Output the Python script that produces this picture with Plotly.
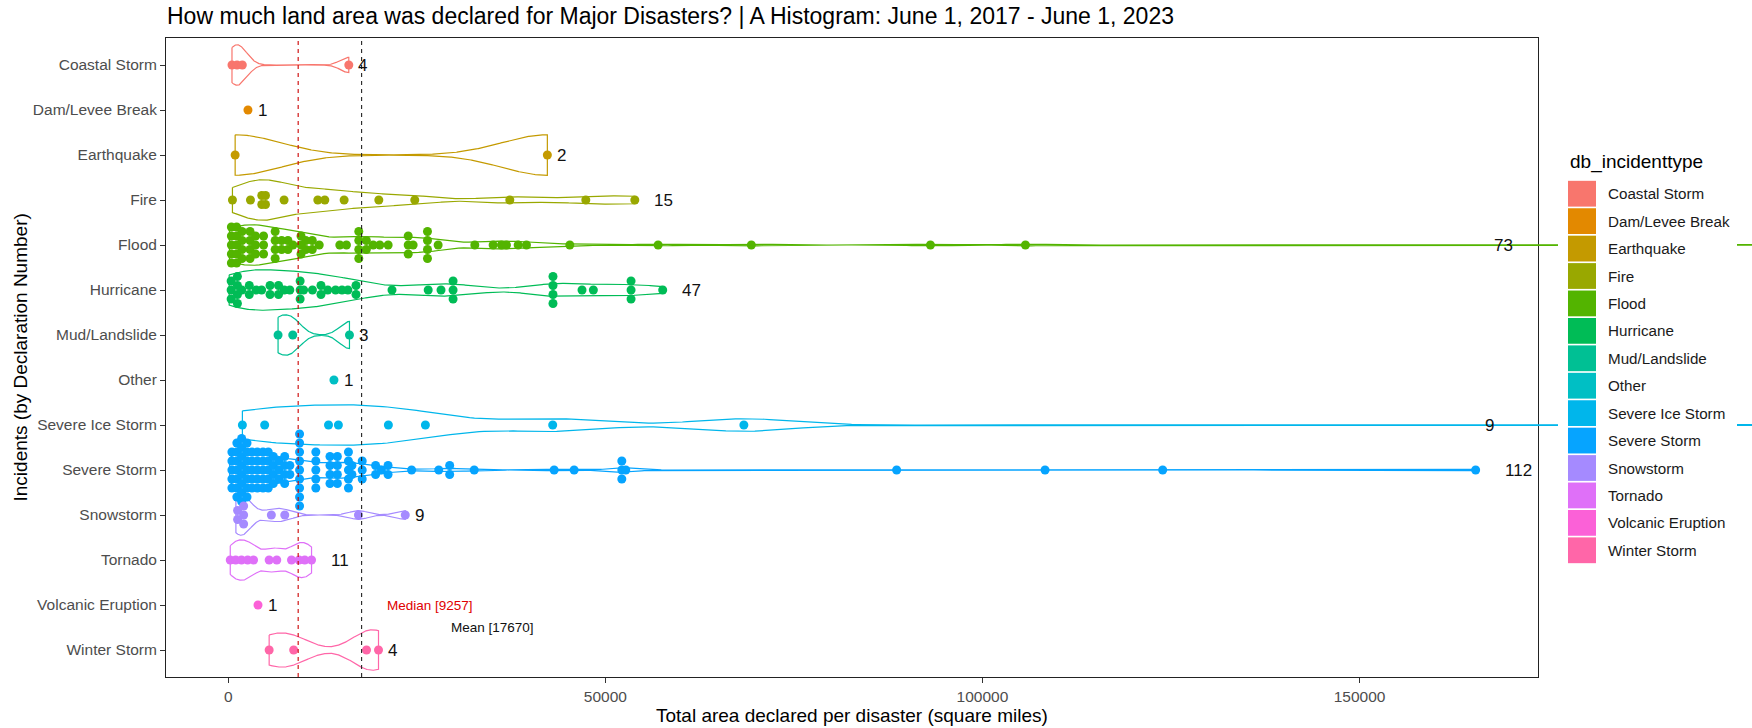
import numpy as np
import plotly.graph_objects as go

# ---------------------------------------------------------------- data
categories = ["Coastal Storm", "Dam/Levee Break", "Earthquake", "Fire", "Flood",
              "Hurricane", "Mud/Landslide", "Other", "Severe Ice Storm",
              "Severe Storm", "Snowstorm", "Tornado", "Volcanic Eruption",
              "Winter Storm"]

# square miles declared per disaster, one list per incident type
coastal_storm = [480, 1150, 1850, 15970]
dam_levee_break = [2600]
earthquake = [900, 42300]
fire = [540, 2930, 4160, 4700, 4850, 5000, 7390, 11860, 12790, 15350, 19950,
        24720, 37320, 47400, 53900]
flood = [150, 300, 420, 580, 650, 800, 950, 1080, 1240, 1390, 1520, 1700, 1880,
         2100, 2620, 2780, 2950, 3130, 3350, 3600, 3850, 4420, 4650, 4920, 5920,
         6080, 6250, 6500, 6780, 7350, 7700, 8100, 8560, 9420, 9350, 9920, 10150,
         10380, 10850, 11400, 12050,
         14780, 15660, 16990, 17200, 17430, 17600, 18200, 18400, 19200, 20080,
         21190, 23700, 23840, 24000, 24500, 26100, 26270, 26400, 26710, 27820,
         32680, 35110, 36220, 36880, 38430, 39530, 45280, 56990, 69350, 93100,
         105700, 337500]
hurricane = [110, 350, 620, 880, 1210, 1460, 1520, 1790, 2480, 3070, 3690, 4410,
             5240, 5810, 6330, 6970, 7420, 8150, 9560, 9330, 9710, 9980,
             11150, 12020, 12540, 13180, 14220, 15070, 15850, 16610, 17240,
             21700, 26500, 28200, 29600, 29800, 30000, 42800, 43000, 43100,
             43300, 46900, 48400, 53200, 53400, 53600, 57600]
mud_landslide = [6590, 8540, 16060]
other = [14000]
severe_ice_storm = [1860, 4815, 13280, 14590, 21220, 26130, 43010, 68360, 329480]
severe_storm = [180, 420, 510, 640, 760, 830, 980, 1050, 1150, 1230,
                1310, 1420, 1480, 1560, 1690, 1750, 1820, 1900, 1980, 2040,
                2170, 2250, 2330, 2460, 2520, 2610, 2780, 2850, 2990, 3120,
                3260, 3410, 3550, 3720, 3860, 3940, 4130, 4310, 4480, 4620,
                4790, 4880, 5020, 5190, 5270, 5430, 5560, 5710, 5840, 5980,
                6210, 6450, 6680, 6920, 7150, 7330, 7610, 7790, 8040, 8270,
                9234, 9285,
                9280, 9350, 9400, 9460, 9520, 9580, 9650,
                11450, 11520, 11600, 11680, 11750,
                13300, 13420, 13500, 13650, 14300, 14420, 14500, 14610,
                15650, 15760, 15850, 15980, 16200, 16320, 16450,
                17600, 17750, 17900, 19400, 19650, 20300, 21050, 21300, 24300,
                27900, 29200, 29500,
                32600, 43200, 45850, 51900, 52200, 52450, 52700, 88620, 108300,
                123900, 165400]
snowstorm = [1000, 1450, 1750, 1850, 2300, 5700, 7480, 17250, 23460]
tornado = [250, 970, 1740, 2560, 3340, 5410, 6420, 8370, 9380, 10130, 11030]
volcanic_eruption = [3930]
winter_storm = [5410, 8660, 18320, 19910]

area_by_type = [coastal_storm, dam_levee_break, earthquake, fire, flood, hurricane,
                mud_landslide, other, severe_ice_storm, severe_storm, snowstorm,
                tornado, volcanic_eruption, winter_storm]

x_tick_values = [0, 50000, 100000, 150000]
x_tick_labels = ["0", "50000", "100000", "150000"]
x_view_limits = (0, 165400)          # visible window of the area axis

# ---------------------------------------------------------------- helpers
W, H = 1752, 728
PANEL_L, PANEL_R, PANEL_T, PANEL_B = 166, 1538, 38, 677
FONT = "Liberation Sans, Arial, sans-serif"


def hue_palette(n, c=100.0, l=65.0):
    """ggplot-style evenly spaced HCL hues, converted to sRGB hex."""
    hues = np.linspace(15, 375, n + 1)[:n]
    xn, yn, zn = 95.047, 100.0, 108.883
    un = 4 * xn / (xn + 15 * yn + 3 * zn)
    vn = 9 * yn / (xn + 15 * yn + 3 * zn)
    out = []
    for h in hues:
        u = c * np.cos(np.deg2rad(h))
        v = c * np.sin(np.deg2rad(h))
        Y = yn * ((l + 16) / 116) ** 3
        up = u / (13 * l) + un
        vp = v / (13 * l) + vn
        X = 9 * Y * up / (4 * vp)
        Z = -X / 3 - 5 * Y + 3 * Y / vp
        X, Y, Z = X / 100, Y / 100, Z / 100
        rgb = [3.240479 * X - 1.537150 * Y - 0.498535 * Z,
               -0.969256 * X + 1.875992 * Y + 0.041556 * Z,
               0.055648 * X - 0.204043 * Y + 1.057311 * Z]
        res = []
        for ch in rgb:
            ch = 12.92 * ch if ch <= 0.0031308 else 1.055 * ch ** (1 / 2.4) - 0.055
            res.append(int(round(min(max(ch, 0), 1) * 255)))
        out.append("#%02X%02X%02X" % tuple(res))
    return out


def bw_nrd0(x):
    x = np.asarray(x, float)
    hi = np.std(x, ddof=1)
    q75, q25 = np.percentile(x, [75, 25])
    lo = min(hi, (q75 - q25) / 1.34)
    if lo <= 0:
        lo = hi if hi > 0 else (abs(x[0]) if x[0] != 0 else 1.0)
    return 0.9 * lo * len(x) ** (-0.2)


def violin_outline(values, adjust=0.5, n=512):
    x = np.asarray(values, float)
    bw = bw_nrd0(x) * adjust
    grid = np.linspace(x.min(), x.max(), n)
    dens = np.exp(-0.5 * ((grid[:, None] - x[None, :]) / bw) ** 2).sum(axis=1)
    return grid, dens / dens.max()


def dot_stacks(values, binwidth):
    """dot-density binning, stacked about the centre line."""
    xs = np.sort(np.asarray(values, float))
    bins, current, end = [], [], -np.inf
    for v in xs:
        if v >= end:
            if current:
                bins.append(current)
            current, end = [], v + binwidth
        current.append(v)
    if current:
        bins.append(current)
    px, offs = [], []
    for b in bins:
        centre = (min(b) + max(b)) / 2
        k = len(b)
        for j in range(k):
            px.append(centre)
            offs.append(j - (k - 1) / 2)
    return np.array(px), np.array(offs)


colors = hue_palette(len(categories))
all_values = np.concatenate([np.asarray(v, float) for v in area_by_type])
median_area = float(np.median(all_values))
mean_area = float(np.mean(all_values))

lo, hi = x_view_limits
span = hi - lo
x_range = [lo - 0.05 * span, hi + 0.05 * span]
# overflow layer: same scale as the panel, stretched to the right page edge
px_per_unit = (PANEL_R - PANEL_L) / (x_range[1] - x_range[0])
x2_range = [x_range[0], x_range[0] + (W - PANEL_L) / px_per_unit]
y_range = [len(categories) - 0.4, -0.6]

row_px = (PANEL_B - PANEL_T) / (y_range[0] - y_range[1])
dot_px = 9
dot_step = dot_px / row_px

fig = go.Figure()

# violins
for i, (name, vals) in enumerate(zip(categories, area_by_type)):
    if len(vals) < 2:
        continue
    grid, w = violin_outline(vals)
    half = 0.45 * w
    xs = np.concatenate([grid, grid[::-1], grid[:1]])
    ys = np.concatenate([i - half, (i + half)[::-1], [i - half[0]]])
    fig.add_trace(go.Scatter(x=xs, y=ys, mode="lines", xaxis="x2", yaxis="y2",
                             line=dict(color=colors[i], width=1.2),
                             hoverinfo="skip", name=name))

# stacked dots
for i, (name, vals) in enumerate(zip(categories, area_by_type)):
    dx, off = dot_stacks(vals, binwidth=650)
    fig.add_trace(go.Scatter(x=dx, y=i + off * dot_step, mode="markers",
                             xaxis="x2", yaxis="y2", name=name,
                             marker=dict(color=colors[i], size=dot_px,
                                         line=dict(width=0))))

# median / mean reference lines
for val, col in [(median_area, "#CC0000"), (mean_area, "#222222")]:
    fig.add_trace(go.Scatter(x=[val, val], y=y_range, mode="lines",
                             xaxis="x2", yaxis="y2", hoverinfo="skip",
                             line=dict(color=col, width=1.1, dash="4px,4px")))

annotations = []

# counts next to each group
for i, vals in enumerate(area_by_type):
    label = str(len(vals))
    anchor = min(max(vals), x_view_limits[1])
    annotations.append(dict(x=anchor, y=i, xref="x", yref="y", text=label,
                            showarrow=False, xanchor="center", yanchor="middle",
                            xshift=1.5 * len(label) * 0.556 * 17,
                            font=dict(family=FONT, size=17, color="#111111")))

annotations.append(dict(x=median_area + 17500, y=12, xref="x", yref="y",
                        text="Median [%d]" % round(median_area), showarrow=False,
                        font=dict(family=FONT, size=13.5, color="#E00000")))
annotations.append(dict(x=mean_area + 17300, y=12.5, xref="x", yref="y",
                        text="Mean [%d]" % round(mean_area), showarrow=False,
                        font=dict(family=FONT, size=13.5, color="#111111")))

# titles
annotations.append(dict(x=165 / W, y=1 - 15.5 / H, xref="paper", yref="paper",
                        xanchor="left", yanchor="middle", showarrow=False,
                        text="How much land area was declared for Major Disasters? | "
                             "A Histogram: June 1, 2017 - June 1, 2023",
                        font=dict(family=FONT, size=23, color="#000000")))
annotations.append(dict(x=(PANEL_L + PANEL_R) / 2 / W, y=1 - 715 / H,
                        xref="paper", yref="paper", xanchor="center",
                        yanchor="middle", showarrow=False,
                        text="Total area declared per disaster (square miles)",
                        font=dict(family=FONT, size=19, color="#000000")))
annotations.append(dict(x=20 / W, y=1 - (PANEL_T + PANEL_B) / 2 / H,
                        xref="paper", yref="paper", xanchor="center",
                        yanchor="middle", showarrow=False, textangle=-90,
                        text="Incidents (by Declaration Number)",
                        font=dict(family=FONT, size=19, color="#000000")))

# legend: colour keys on their own small axes
LEG_L, LEG_R, KEY_T, KEY_B = 1558, 1737, 180, 564
key_x0, key_w, text_x = 10, 28, 48
fig.add_trace(go.Bar(y=list(range(len(categories))),
                     x=[key_w] * len(categories), base=key_x0,
                     orientation="h", xaxis="x3", yaxis="y3",
                     marker=dict(color=colors, line=dict(width=0)),
                     hoverinfo="skip"))
for i, name in enumerate(categories):
    annotations.append(dict(x=text_x, y=i, xref="x3", yref="y3", text=name,
                            showarrow=False, xanchor="left", yanchor="middle",
                            font=dict(family=FONT, size=15.2, color="#1A1A1A")))
annotations.append(dict(x=1568 / W, y=1 - 161.5 / H, xref="paper", yref="paper",
                        xanchor="left", yanchor="middle", showarrow=False,
                        text="db_incidenttype",
                        font=dict(family=FONT, size=19, color="#000000")))

shapes = [dict(type="rect", xref="x3", yref="y3", x0=0, x1=LEG_R - LEG_L,
               y0=-0.5, y1=len(categories) - 0.5, layer="below",
               fillcolor="white", line=dict(width=0))]

axis_common = dict(showgrid=False, zeroline=False, showline=True, mirror=True,
                   linecolor="#222222", linewidth=1, ticks="outside", ticklen=5,
                   tickcolor="#333333", tickwidth=1,
                   tickfont=dict(family=FONT, size=15.5, color="#4D4D4D"))

y_dom = [1 - PANEL_B / H, 1 - PANEL_T / H]
fig.update_layout(
    width=W, height=H, autosize=False,
    margin=dict(l=0, r=0, t=0, b=0),
    paper_bgcolor="white", plot_bgcolor="rgba(0,0,0,0)",
    showlegend=False, bargap=0.06,
    xaxis=dict(domain=[PANEL_L / W, PANEL_R / W], range=x_range, anchor="y",
               tickmode="array", tickvals=x_tick_values, ticktext=x_tick_labels,
               **axis_common),
    yaxis=dict(domain=y_dom, range=y_range, anchor="x", tickmode="array",
               tickvals=list(range(len(categories))), ticktext=categories,
               **axis_common),
    xaxis2=dict(domain=[PANEL_L / W, 1.0], range=x2_range, anchor="y2",
                visible=False),
    yaxis2=dict(domain=y_dom, range=y_range, anchor="x2", visible=False),
    xaxis3=dict(domain=[LEG_L / W, LEG_R / W], range=[0, LEG_R - LEG_L],
                anchor="y3", visible=False),
    yaxis3=dict(domain=[1 - KEY_B / H, 1 - KEY_T / H],
                range=[len(categories) - 0.5, -0.5], anchor="x3", visible=False),
    annotations=annotations, shapes=shapes,
)

fig.write_html("out.html")
